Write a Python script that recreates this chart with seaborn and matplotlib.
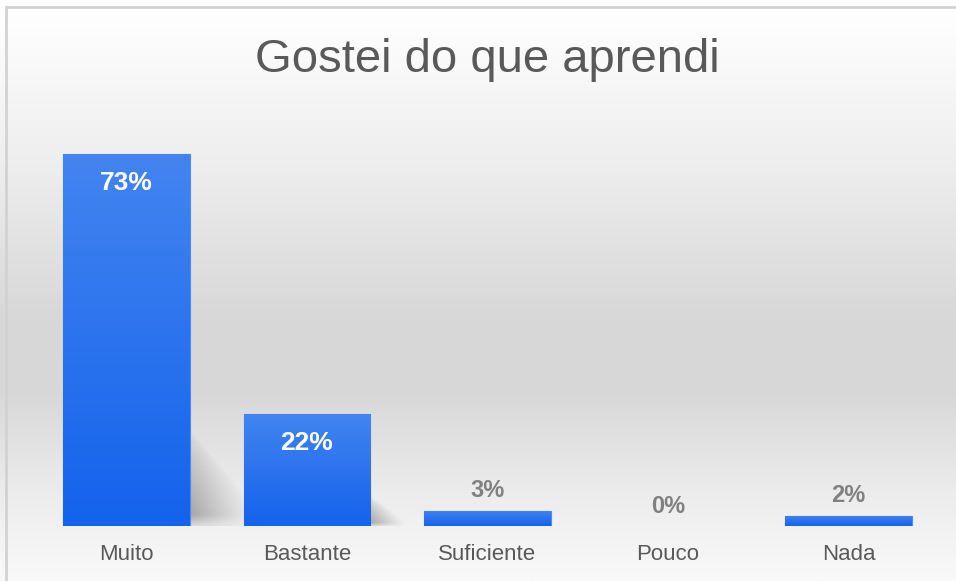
import numpy as np
import matplotlib
matplotlib.use("Agg")
import matplotlib.pyplot as plt
import seaborn as sns
from matplotlib.colors import LinearSegmentedColormap
from matplotlib.lines import Line2D

# ── data ──────────────────────────────────────────────────────────────
categories = ["Muito", "Bastante", "Suficiente", "Pouco", "Nada"]
percent = [73, 22, 3, 0, 2]
title = "Gostei do que aprendi"

sns.set_theme(style="white")
plt.rcParams["font.family"] = ["Liberation Sans", "DejaVu Sans"]

fig = plt.figure(figsize=(9.56, 5.81), dpi=100)

# ── background gradient + frame ───────────────────────────────────────
bg = fig.add_axes([0, 0, 1, 1], zorder=0)
bg.axis("off")
bg_cmap = LinearSegmentedColormap.from_list("bg", [
    (0.00, "#ffffff"), (0.08, "#fbfbfb"), (0.28, "#eeeeee"),
    (0.55, "#d7d7d7"), (0.68, "#d8d8d8"), (0.85, "#ececec"), (1.00, "#f9f9f9")])
bg.imshow(np.linspace(0, 1, 400).reshape(-1, 1), cmap=bg_cmap, aspect="auto",
          extent=[0, 1, 0, 1], origin="upper")
bg.set_xlim(0, 1)
bg.set_ylim(0, 1)
bx, by = 6 / 956, 1 - 7 / 581
bg.add_line(Line2D([bx, 1], [by, by], color="#d2d2d2", lw=2))
bg.add_line(Line2D([bx, bx], [0, by], color="#d2d2d2", lw=2))

# ── bars ──────────────────────────────────────────────────────────────
ax = fig.add_axes([36 / 956, 55 / 581, 903 / 956, 398 / 581], zorder=1)
ax.set_facecolor("none")
sns.barplot(x=categories, y=percent, color="#1c67ee", width=0.7,
            saturation=1, ax=ax, zorder=3, edgecolor="#4a8cf3", linewidth=0.8)

bar_cmap = LinearSegmentedColormap.from_list("bar", ["#1463ec", "#4384f0"])
for i, p in enumerate(ax.patches):
    x, w, h = p.get_x(), p.get_width(), p.get_height()
    if h <= 0:
        p.set_linewidth(0)
        continue
    im = ax.imshow(np.linspace(0, 1, 100).reshape(-1, 1), cmap=bar_cmap,
                   aspect="auto", extent=[x, x + w, 0, h], origin="lower",
                   zorder=3.5)
    im.set_clip_path(p)
    # soft floor shadow to the right of the taller bars
    if h > 5:
        xr = x + w
        S = 0.26 * h
        D = 0.12 + 0.26 * h / 73
        ny, nx = 120, 120
        yy, xx = np.mgrid[0:ny, 0:nx]
        u = xx / (nx - 1)
        t = yy / (ny - 1)
        edge = 1 - 0.85 * u
        a = np.clip(1 - t / np.maximum(edge, 1e-3), 0, 1) ** 0.7 * (1 - u) ** 1.1
        a *= np.clip(t * 6 + 0.3, 0, 1)
        rgba = np.zeros((ny, nx, 4))
        rgba[..., :3] = 0.42
        rgba[..., 3] = 0.6 * a
        ax.imshow(rgba, extent=[xr, xr + D, 0, S], origin="lower",
                  aspect="auto", zorder=2, interpolation="bilinear")

# ── value labels ──────────────────────────────────────────────────────
for i, v in enumerate(percent):
    if v >= 10:
        ax.annotate(f"{v}%", (i, v), xytext=(0, -21), textcoords="offset points",
                    ha="center", va="center", color="white",
                    fontsize=19, fontweight="bold", zorder=5)
    else:
        ax.annotate(f"{v}%", (i, v), xytext=(0, 6), textcoords="offset points",
                    ha="center", va="bottom", color="#808080",
                    fontsize=17, fontweight="bold", zorder=5)

ax.set_xlim(-0.5, 4.5)
ax.set_ylim(0, 78)
ax.set_yticks([])
ax.set_xlabel("")
ax.set_ylabel("")
ax.tick_params(axis="x", length=0, pad=13, labelsize=16, labelcolor="#595959")
sns.despine(ax=ax, left=True, bottom=True)

fig.text(487 / 956, 1 - 72 / 581, title, ha="center", va="baseline",
         fontsize=34, color="#595959")

fig.savefig("out.png", dpi=100)
plt.close(fig)
